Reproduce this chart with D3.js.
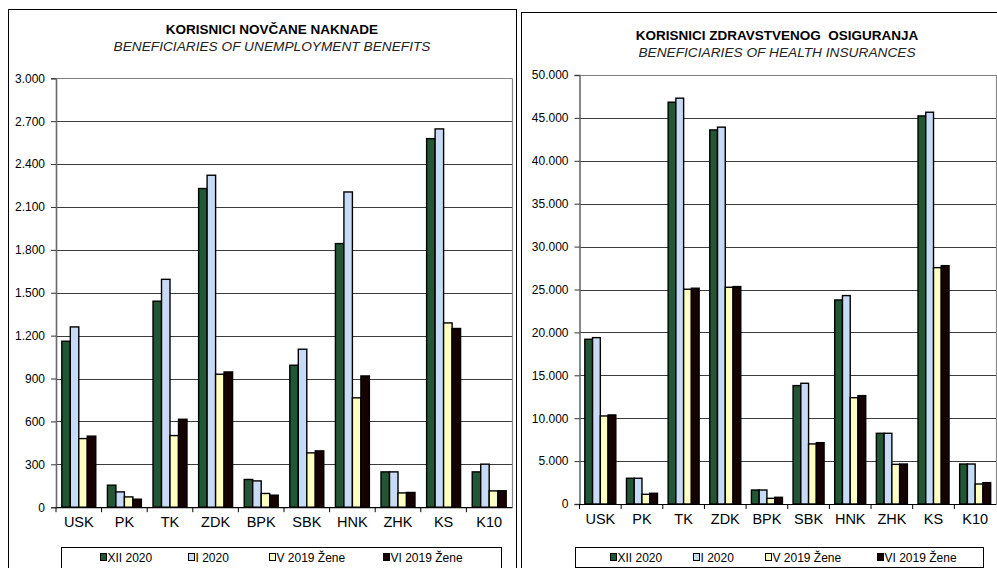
<!DOCTYPE html>
<html>
<head>
<meta charset="utf-8">
<script src="https://cdn.jsdelivr.net/npm/d3@7"></script>
<style>
  html, body { margin: 0; padding: 0; background: #fff; }
  svg { display: block; }
  text { font-family: "Liberation Sans", Arial, sans-serif; white-space: pre; }
</style>
</head>
<body>
<svg id="chart" width="997" height="568"></svg>
<script>
// ---- data ----
const categories = ["USK", "PK", "TK", "ZDK", "BPK", "SBK", "HNK", "ZHK", "KS", "K10"];
const seriesNames = ["XII 2020", "I 2020", "V 2019 Žene", "VI 2019 Žene"];

// Unemployment benefits (left chart)
const unempXII = [1161, 154, 1441, 2229, 194, 993, 1844, 247, 2578, 247];
const unempI   = [1261, 107, 1594, 2322, 184, 1105, 2205, 247, 2646, 301];
const unempV   = [480, 72, 501, 930, 96, 380, 765, 100, 1289, 114];
const unempVI  = [497, 56, 615, 946, 84, 394, 918, 103, 1250, 115];

// Health insurance (right chart)
const healthXII = [19200, 3000, 46830, 43600, 1630, 13800, 23780, 8240, 45230, 4660];
const healthI   = [19390, 3000, 47300, 43920, 1630, 14070, 24290, 8240, 45660, 4660];
const healthV   = [10260, 1130, 25030, 25260, 660, 7000, 12390, 4620, 27550, 2330];
const healthVI  = [10380, 1250, 25150, 25340, 780, 7150, 12630, 4660, 27780, 2490];

const leftTicks = [0, 300, 600, 900, 1200, 1500, 1800, 2100, 2400, 2700, 3000];
const rightTicks = [0, 5000, 10000, 15000, 20000, 25000, 30000, 35000, 40000, 45000, 50000];

const titles = {
  left: ["KORISNICI NOVČANE NAKNADE", "BENEFICIARIES OF UNEMPLOYMENT BENEFITS"],
  right: ["KORISNICI ZDRAVSTVENOG  OSIGURANJA", "BENEFICIARIES OF HEALTH INSURANCES"]
};

const colors = ["#235634", "#c8dbf6", "#ffffc2", "#170202"];

// ---- drawing ----
const svg = d3.select("#chart");
const loc = d3.formatLocale({ decimal: ",", thousands: ".", grouping: [3], currency: ["", ""] });
const fmt = loc.format(",");

// panel borders
svg.append("rect").attr("x", 8.5).attr("y", 9.5).attr("width", 508).attr("height", 600)
  .attr("fill", "none").attr("stroke", "#000").attr("stroke-width", 1);
svg.append("rect").attr("x", 521.5).attr("y", 12.5).attr("width", 500).attr("height", 600)
  .attr("fill", "none").attr("stroke", "#000").attr("stroke-width", 1);

function drawChart(cfg) {
  const g = svg.append("g");
  const x = d3.scaleBand().domain(categories).range([cfg.x0, cfg.x1]).padding(0);
  const xs = d3.scaleBand().domain(d3.range(4)).range([0, x.bandwidth()])
    .paddingInner(0).paddingOuter(0.685);
  const y = d3.scaleLinear().domain([0, cfg.max]).range([cfg.yb, cfg.yt]);

  // gridlines
  g.append("g").selectAll("line").data(cfg.ticks.filter(t => t > 0)).join("line")
    .attr("x1", cfg.x0).attr("x2", cfg.x1)
    .attr("y1", d => Math.round(y(d)) + 0.5).attr("y2", d => Math.round(y(d)) + 0.5)
    .attr("stroke", d => d === cfg.max ? "#7f7f7f" : "#3c3c3c")
    .attr("stroke-width", 1.2);

  // right border of plot area
  g.append("line").attr("x1", cfg.x1 + 0.5).attr("x2", cfg.x1 + 0.5)
    .attr("y1", cfg.yt).attr("y2", cfg.yb).attr("stroke", "#8a8a8a").attr("stroke-width", 1.2);

  // bars
  const series = cfg.series;
  const groups = g.append("g").selectAll("g").data(categories).join("g")
    .attr("transform", d => `translate(${x(d)},0)`);
  groups.selectAll("rect").data((c, ci) => series.map((s, si) => ({ si, v: s[ci] }))).join("rect")
    .attr("x", d => xs(d.si))
    .attr("width", xs.bandwidth())
    .attr("y", d => y(d.v))
    .attr("height", d => cfg.yb - y(d.v))
    .attr("fill", d => colors[d.si])
    .attr("stroke", "#000")
    .attr("stroke-width", 1.4);

  // y axis
  const yAxis = d3.axisLeft(y).tickValues(cfg.ticks).tickFormat(fmt).tickSize(5).tickPadding(6);
  const ya = g.append("g").attr("transform", `translate(${cfg.x0},0)`).call(yAxis);
  ya.select(".domain").attr("stroke", "#6a6a6a").attr("stroke-width", 1.6);
  ya.selectAll(".tick line").attr("stroke", "#333");
  ya.selectAll("text").attr("font-size", 12).attr("fill", "#000")
    .attr("font-family", "'Liberation Sans', Arial, sans-serif");

  // x axis
  const xAxis = d3.axisBottom(x).tickSize(0).tickPadding(10);
  const xa = g.append("g").attr("transform", `translate(0,${cfg.yb})`).call(xAxis);
  xa.select(".domain").attr("stroke", "#000").attr("stroke-width", 1.2);
  xa.selectAll("text").attr("font-size", 14.5).attr("fill", "#000")
    .attr("font-family", "'Liberation Sans', Arial, sans-serif");
  // category separator ticks
  g.append("g").selectAll("line").data(categories).join("line")
    .attr("x1", d => x(d)).attr("x2", d => x(d))
    .attr("y1", cfg.yb).attr("y2", cfg.yb + 5)
    .attr("stroke", "#000").attr("stroke-width", 1);

  // titles
  g.append("text").attr("x", cfg.tx).attr("y", cfg.ty).attr("text-anchor", "middle")
    .attr("font-size", 13.5).attr("font-weight", "bold").text(cfg.title[0]);
  g.append("text").attr("x", cfg.tx).attr("y", cfg.ty + 17).attr("text-anchor", "middle")
    .attr("font-size", 13.7).attr("font-style", "italic").attr("fill", "#222").text(cfg.title[1]);

  // legend
  g.append("rect").attr("x", cfg.lx0 + 0.5).attr("y", 547.5).attr("width", cfg.lx1 - cfg.lx0)
    .attr("height", cfg.lh).attr("fill", "#fff").attr("stroke", "#000").attr("stroke-width", 1);
  const li = g.append("g").selectAll("g").data(seriesNames).join("g")
    .attr("transform", (d, i) => `translate(${cfg.lxs[i]},0)`);
  li.append("rect").attr("x", 0.5).attr("y", 553.5).attr("width", 6).attr("height", 7)
    .attr("fill", (d, i) => colors[i]).attr("stroke", "#000").attr("stroke-width", 1);
  li.append("text").attr("x", 7.5).attr("y", 561.5).attr("font-size", 12).attr("fill", "#000").text(d => d);
}

drawChart({
  x0: 56, x1: 512, yt: 78.3, yb: 507.2, max: 3000, ticks: leftTicks,
  series: [unempXII, unempI, unempV, unempVI],
  title: titles.left, tx: 272, ty: 33.5,
  lx0: 61, lx1: 501, lh: 30, lxs: [100, 188, 269, 383]
});
drawChart({
  x0: 579.5, x1: 996, yt: 75, yb: 504, max: 50000, ticks: rightTicks,
  series: [healthXII, healthI, healthV, healthVI],
  title: titles.right, tx: 777, ty: 39.5,
  lx0: 575, lx1: 983, lh: 20, lxs: [610, 693, 765, 877]
});
</script>
</body>
</html>
